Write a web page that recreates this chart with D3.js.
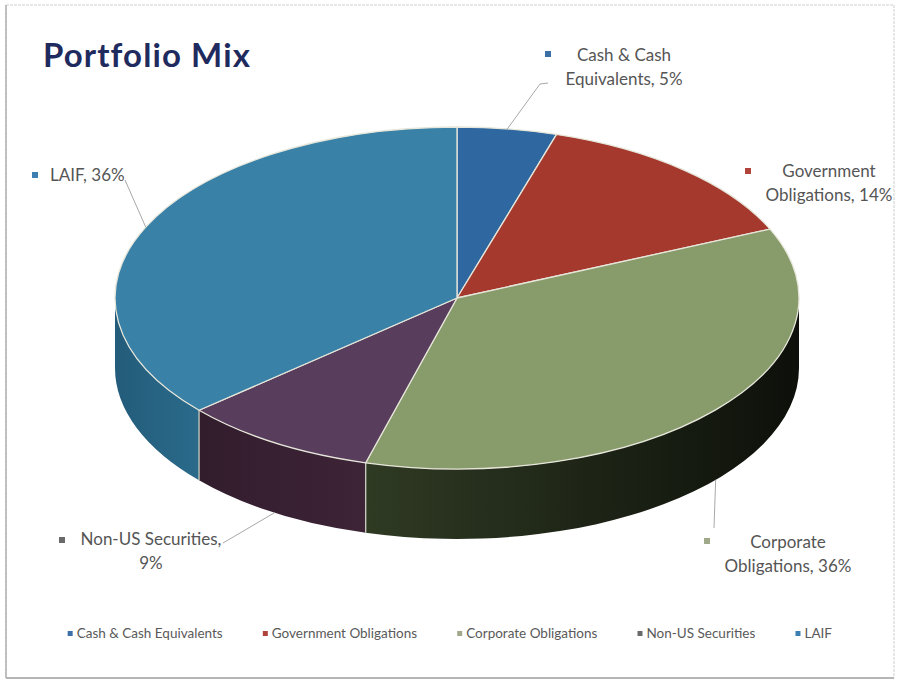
<!DOCTYPE html>
<html>
<head>
<meta charset="utf-8">
<script src="https://cdn.jsdelivr.net/npm/d3@7"></script>
<style>
  body { margin: 0; background: #fff; }
  text { font-family: Lato, "Open Sans", sans-serif; }
</style>
</head>
<body>
<div id="chart"></div>
<script>
// portfolio shares, clockwise from 12 o'clock
const categories = ["Cash & Cash Equivalents", "Government Obligations", "Corporate Obligations", "Non-US Securities", "LAIF"];
const shares = [4.7, 13.7, 35.9, 9.3, 36.4];
const topColors = ["#2f68a0", "#a6392d", "#889b6b", "#593d5c", "#3a81a8"];
const sideLight = ["#27588a", "#8a2f25", "#2f3a23", "#3d2437", "#2b6a8b"];
const sideDark = ["#1f4a75", "#72261e", "#0d100a", "#321d2d", "#235c7a"];
const markerColors = ["#3b6fa6", "#b0443b", "#a0aa8a", "#6a6a6a", "#3c7fb0"];
const lineBreaks = [3, 1, 1, 2, 3]; // words on first label line

const W = 897, H = 681;
const cx = 457, cy = 298, rx = 342, ry = 171, depth = 70;

const svg = d3.select("#chart").append("svg")
    .attr("width", W)
    .attr("height", H);

const defs = svg.append("defs");

// frame
svg.append("rect")
    .attr("x", 6).attr("y", 5)
    .attr("width", 888).attr("height", 673)
    .attr("fill", "#fff")
    .attr("stroke", "#cfcfcf")
    .attr("stroke-dasharray", "3,1");
svg.append("line")
    .attr("x1", 6).attr("x2", 894).attr("y1", 678).attr("y2", 678)
    .attr("stroke", "#b5b5b5").attr("stroke-width", 2);
svg.append("line")
    .attr("x1", 6).attr("x2", 6).attr("y1", 5).attr("y2", 678)
    .attr("stroke", "#b0b0b0").attr("stroke-width", 1.5);

svg.append("text")
    .attr("x", 43).attr("y", 67)
    .attr("font-size", 33)
    .attr("font-weight", "bold")
    .attr("letter-spacing", 1.1)
    .attr("fill", "#1f2b5e")
    .text("Portfolio Mix");

const pie = d3.pie().sort(null).value(d => d)(shares);

const pt = (a, dy) => [cx + rx * Math.sin(a), cy - ry * Math.cos(a) + (dy || 0)];

function topPath(a0, a1) {
  const p0 = pt(a0), p1 = pt(a1);
  const large = (a1 - a0) > Math.PI ? 1 : 0;
  return `M${cx},${cy}L${p0}A${rx},${ry} 0 ${large} 1 ${p1}Z`;
}

function sidePath(a0, a1) {
  const p0 = pt(a0), p1 = pt(a1), q1 = pt(a1, depth), q0 = pt(a0, depth);
  return `M${p0}A${rx},${ry} 0 0 1 ${p1}L${q1}A${rx},${ry} 0 0 0 ${q0}Z`;
}

const g = svg.append("g");

// outer walls, only the front half shows
pie.forEach((d, i) => {
  const a0 = Math.max(d.startAngle, Math.PI / 2);
  const a1 = Math.min(d.endAngle, 3 * Math.PI / 2);
  if (a1 <= a0) return;
  const grad = defs.append("linearGradient")
      .attr("id", "side" + i)
      .attr("gradientUnits", "userSpaceOnUse")
      .attr("x1", pt(a0)[0]).attr("x2", pt(a1)[0])
      .attr("y1", 0).attr("y2", 0);
  grad.append("stop").attr("offset", 0).attr("stop-color", a0 < Math.PI ? sideDark[i] : sideLight[i]);
  grad.append("stop").attr("offset", 1).attr("stop-color", a0 < Math.PI ? sideLight[i] : sideDark[i]);
  g.append("path")
      .attr("d", sidePath(a0, a1))
      .attr("fill", `url(#side${i})`);
});

// vertical seams on the front wall
pie.forEach(d => {
  const a = d.startAngle;
  if (a > Math.PI / 2 && a < 3 * Math.PI / 2) {
    g.append("line")
        .attr("x1", pt(a)[0]).attr("x2", pt(a)[0])
        .attr("y1", pt(a)[1]).attr("y2", pt(a, depth)[1])
        .attr("stroke", "#d8d8c8").attr("stroke-width", 1.2);
  }
});

g.selectAll(".slice")
    .data(pie)
    .enter().append("path")
    .attr("class", "slice")
    .attr("d", d => topPath(d.startAngle, d.endAngle))
    .attr("fill", (d, i) => topColors[i])
    .attr("stroke", "#e6e6da")
    .attr("stroke-width", 1.3)
    .attr("stroke-linejoin", "round");

// data labels
const labelPos = [
  { x: 624, y: 61, anchor: "middle", mk: [548, 54], lead: [[548, 83], [540, 84]] },
  { x: 829, y: 177, anchor: "middle", mk: [748, 171], lead: null },
  { x: 788, y: 548, anchor: "middle", mk: [707, 541], lead: [[714, 528]] },
  { x: 151, y: 545, anchor: "middle", mk: [62, 540], lead: [[223, 543]] },
  { x: 50, y: 181, anchor: "start", mk: [35, 175], lead: [[125, 180]] }
];

pie.forEach((d, i) => {
  const pos = labelPos[i];
  const mid = (d.startAngle + d.endAngle) / 2;
  const front = Math.cos(mid) < 0;
  if (pos.lead) {
    const end = pt(mid, front ? depth : 0);
    svg.append("path")
        .attr("d", d3.line()(pos.lead.concat([end])))
        .attr("fill", "none")
        .attr("stroke", "#a8a8a8")
        .attr("stroke-width", 1);
  }
  svg.append("rect")
      .attr("x", pos.mk[0] - 3).attr("y", pos.mk[1] - 3)
      .attr("width", 6).attr("height", 6)
      .attr("fill", markerColors[i]);
  const words = (categories[i] + ", " + Math.round(d.data) + "%").split(" ");
  const lines = [words.slice(0, lineBreaks[i]).join(" "), words.slice(lineBreaks[i]).join(" ")].filter(s => s);
  const t = svg.append("text")
      .attr("x", pos.x).attr("y", pos.y)
      .attr("text-anchor", pos.anchor)
      .attr("font-size", 17)
      .attr("fill", "#555");
  lines.forEach((s, k) => {
    t.append("tspan").attr("x", pos.x).attr("dy", k ? 24 : 0).text(s);
  });
});

// legend
const legend = svg.append("g");
let lx = 0;
const items = legend.selectAll(".item")
    .data(categories)
    .enter().append("g")
    .attr("class", "item");
items.append("rect")
    .attr("x", 0).attr("y", -7)
    .attr("width", 5).attr("height", 5)
    .attr("fill", (d, i) => markerColors[i]);
items.append("text")
    .attr("x", 9)
    .attr("font-size", 13.5)
    .attr("fill", "#595959")
    .text(d => d);
items.each(function () {
  d3.select(this).attr("transform", `translate(${lx},0)`);
  lx += this.getBBox().width + 40;
});
lx -= 40;
legend.attr("transform", `translate(${450 - lx / 2},638)`);
</script>
</body>
</html>
